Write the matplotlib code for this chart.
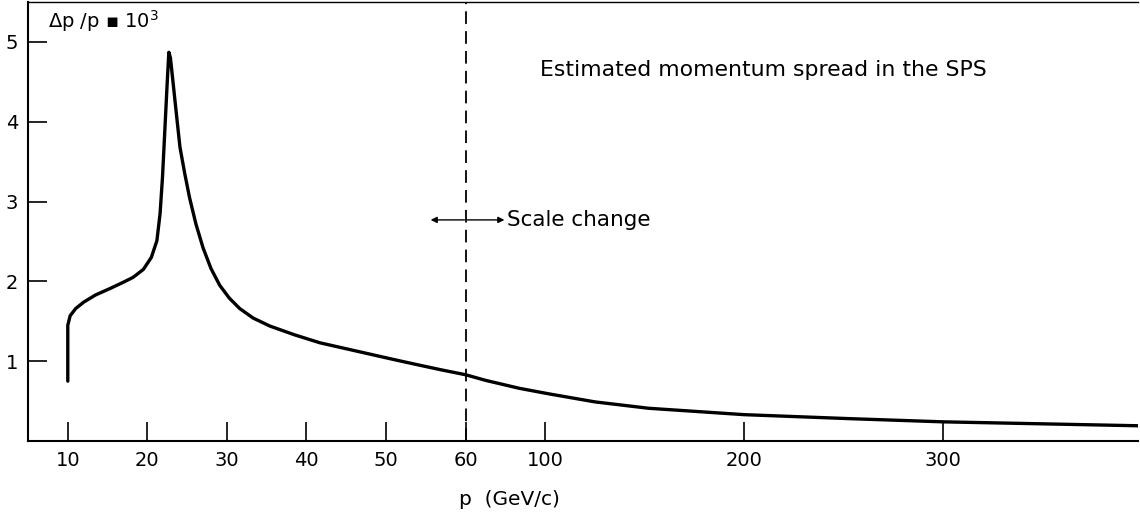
import numpy as np
import matplotlib
matplotlib.use("Agg")
import matplotlib.pyplot as plt

# data
p_vals = [10, 10, 10.3, 11, 12, 13.5, 15.3, 17, 18.2, 19.5, 20.5, 21.2, 21.6, 21.9,
          22.2, 22.5, 22.7, 22.9, 23.2, 23.7, 24.1, 24.7, 25.3, 26.1, 27.0, 28.0, 29.1,
          30.3, 31.6, 33.3, 35.4, 38.5, 41.7, 44.8, 47.9, 51.0, 54.2, 57.0, 60,
          70, 87, 102, 125, 152, 200, 253, 300, 350, 400]
dpp_vals = [0.75, 1.45, 1.57, 1.66, 1.74, 1.83, 1.91, 1.99, 2.05, 2.15, 2.3, 2.51, 2.85, 3.3,
            3.9, 4.5, 4.87, 4.8, 4.52, 4.05, 3.68, 3.35, 3.05, 2.72, 2.42, 2.16, 1.95,
            1.79, 1.66, 1.54, 1.44, 1.33, 1.23, 1.16, 1.09, 1.02, 0.95, 0.89, 0.83,
            0.76, 0.66, 0.59, 0.49, 0.41, 0.33, 0.28, 0.24, 0.215, 0.19]

x_ticks = [10, 20, 30, 40, 50, 60, 100, 200, 300]
x_ticklabels = ["10", "20", "30", "40", "50", "60", "100", "200", "300"]
y_ticks = [1, 2, 3, 4, 5]
scale_break = 60


def fwd(p):
    p = np.asarray(p, dtype=float)
    return np.where(p <= scale_break, p, scale_break + (p - scale_break) * 0.25)


def inv(x):
    x = np.asarray(x, dtype=float)
    return np.where(x <= scale_break, x, scale_break + (x - scale_break) * 4.0)


fig = plt.figure(figsize=(11.4, 5.17), dpi=100)
ax = fig.add_axes([28 / 1140, 76 / 517, 1110 / 1140, 439 / 517])
ax.set_xscale("function", functions=(fwd, inv))
ax.set_xlim(5, 398)
ax.set_ylim(0, 5.5)

ax.plot(p_vals, dpp_vals, color="black", lw=2.4, solid_capstyle="round",
        solid_joinstyle="round")
ax.axvline(scale_break, color="black", lw=1.3, ls=(0, (7, 4)))

ax.set_xticks(x_ticks)
ax.set_xticklabels(x_ticklabels)
ax.set_yticks(y_ticks)
ax.tick_params(axis="both", direction="in", length=14, width=1.2, labelsize=14)
ax.tick_params(axis="x", pad=7)
ax.tick_params(axis="y", pad=7)
ax.minorticks_off()

for s in ["left", "bottom"]:
    ax.spines[s].set_linewidth(1.5)
ax.spines["top"].set_linewidth(1.0)
ax.spines["right"].set_visible(False)

ax.set_xlabel("p  (GeV/c)", fontsize=14.5)
ax.xaxis.set_label_coords(0.434, -0.134)
ax.xaxis.label.set_verticalalignment("center")

ax.text(0.018, 0.985, "Δp /p \u25aa 10$^3$", transform=ax.transAxes, fontsize=14,
        ha="left", va="top")
ax.text(0.461, 0.845, "Estimated momentum spread in the SPS", transform=ax.transAxes,
        fontsize=15.8, ha="left", va="center")

ya = 2.77
arrow_kw = dict(arrowstyle="-|>", color="black", lw=1.0, mutation_scale=9,
                shrinkA=0, shrinkB=0)
ax.annotate("", xy=(55.6, ya), xytext=(59.85, ya), arrowprops=arrow_kw)
ax.annotate("", xy=(79.5, ya), xytext=(60.8, ya), arrowprops=arrow_kw)
ax.text(81, ya, "Scale change", fontsize=15.5, ha="left", va="center")

fig.savefig("out.png", dpi=100)
